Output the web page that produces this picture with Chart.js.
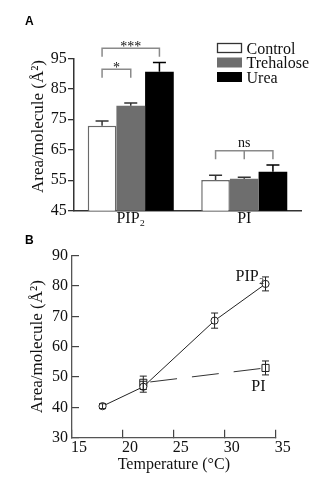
<!DOCTYPE html>
<html>
<head>
<meta charset="utf-8">
<script src="https://cdn.jsdelivr.net/npm/chart.js@4.4.1/dist/chart.umd.min.js"></script>
<style>
  html, body { margin: 0; padding: 0; background: #fff; }
  #wrap { position: relative; width: 331px; height: 484px; overflow: hidden; }
  #wrap canvas { position: absolute; left: 0; }
  #chartA { top: 0; }
  #chartB { top: 228px; }
</style>
</head>
<body>
<div id="wrap">
  <canvas id="chartA" width="331" height="240"></canvas>
  <canvas id="chartB" width="331" height="256"></canvas>
</div>
<script>
// Panel A: area per molecule for each lipid and additive
const lipids = ["PIP\u2082", "PI"];
const controlArea = [72.9, 55.1];
const controlErr = [1.5, 1.5];
const trehaloseArea = [79.4, 55.5];
const trehaloseErr = [0.9, 0.5];
const ureaArea = [90.6, 57.8];
const ureaErr = [3.0, 2.2];
const areaTicksA = [45, 55, 65, 75, 85, 95];

// significance brackets (group index, first/last bar, bracket level, leg end)
const brackets = [
  { group: 0, from: 0, to: 1, level: 91.4, legEnd: 88.6, text: "*" },
  { group: 0, from: 0, to: 2, level: 98.3, legEnd: 95.5, text: "***" },
  { group: 1, from: 0, to: 2, level: 64.7, legEnd: 61.9, text: "ns", middleLeg: true },
];

// Panel B: area per molecule vs temperature
const tempPIP2 = [18, 22, 29, 34];
const areaPIP2 = [40.4, 46.8, 68.6, 80.7];
const errPIP2 = [0.8, 1.8, 2.5, 2.3];
const tempPI = [22, 34];
const areaPI = [48.1, 53.0];
const errPI = [2.2, 2.3];
const tempTicks = [15, 20, 25, 30, 35];
const areaTicksB = [30, 40, 50, 60, 70, 80, 90];

const serif = "'Liberation Serif', 'Times New Roman', serif";
Chart.defaults.font.family = serif;
Chart.defaults.color = "#111";

// draws a rotated y-axis title, baseline at x, centred on y
function drawYTitle(ctx, text, x, y) {
  ctx.save();
  ctx.translate(x, y);
  ctx.rotate(-Math.PI / 2);
  ctx.font = "17px " + serif;
  ctx.fillStyle = "#111";
  ctx.textAlign = "center";
  ctx.textBaseline = "alphabetic";
  ctx.fillText(text, 0, 0);
  ctx.restore();
}

function drawPanelLetter(ctx, letter, x, y) {
  ctx.save();
  ctx.font = "bold 12px 'Liberation Sans', Arial, sans-serif";
  ctx.fillStyle = "#000";
  ctx.textBaseline = "alphabetic";
  ctx.fillText(letter, x, y);
  ctx.restore();
}

// Error bars for the bar chart (upper half only)
const barErrors = {
  id: "barErrors",
  afterDatasetsDraw(chart) {
    const ctx = chart.ctx;
    const y = chart.scales.y;
    ctx.save();
    ctx.lineWidth = 1.5;
    chart.data.datasets.forEach((ds, i) => {
      ctx.strokeStyle = ds.errorColor;
      chart.getDatasetMeta(i).data.forEach((bar, j) => {
        const top = y.getPixelForValue(ds.data[j] + ds.errors[j]);
        ctx.beginPath();
        ctx.moveTo(bar.x, bar.y);
        ctx.lineTo(bar.x, top);
        ctx.moveTo(bar.x - 6.5, top);
        ctx.lineTo(bar.x + 6.5, top);
        ctx.stroke();
      });
    });
    ctx.restore();
  },
};

// Brackets, legend, title and letter for panel A
const panelADecor = {
  id: "panelADecor",
  afterDraw(chart) {
    const ctx = chart.ctx;
    const y = chart.scales.y;
    const barX = (ds, g) => chart.getDatasetMeta(ds).data[g].x;

    ctx.save();
    ctx.strokeStyle = "#8a8a8a";
    ctx.lineWidth = 1.5;
    brackets.forEach((b) => {
      const x1 = barX(b.from, b.group);
      const x2 = barX(b.to, b.group);
      const yTop = y.getPixelForValue(b.level);
      const yLeg = y.getPixelForValue(b.legEnd);
      ctx.beginPath();
      ctx.moveTo(x1, yLeg);
      ctx.lineTo(x1, yTop);
      ctx.lineTo(x2, yTop);
      ctx.lineTo(x2, yLeg);
      if (b.middleLeg) {
        const xm = barX(1, b.group);
        ctx.moveTo(xm, yTop);
        ctx.lineTo(xm, yLeg);
      }
      ctx.stroke();
      ctx.fillStyle = "#111";
      ctx.font = "14px " + serif;
      ctx.textAlign = "center";
      ctx.textBaseline = "alphabetic";
      const isStar = b.text.indexOf("*") >= 0;
      ctx.fillText(b.text, (x1 + x2) / 2, yTop + (isStar ? 2.5 : -4));
    });
    ctx.restore();

    // legend
    ctx.save();
    chart.data.datasets.forEach((ds, i) => {
      const top = 43 + i * 14.5;
      ctx.fillStyle = ds.backgroundColor;
      ctx.fillRect(217, top, 25, 10);
      if (ds.borderWidth) {
        ctx.strokeStyle = "#333";
        ctx.lineWidth = 1.3;
        ctx.strokeRect(217.5, top + 0.5, 24, 9);
      }
      ctx.fillStyle = "#111";
      ctx.font = "16px " + serif;
      ctx.textAlign = "left";
      ctx.textBaseline = "alphabetic";
      ctx.fillText(ds.label, 246.5, top + 10.5);
    });
    ctx.restore();

    drawYTitle(ctx, "Area/molecule (\u00c5\u00b2)", 43, 126.5);
    drawPanelLetter(ctx, "A", 25, 25);
  },
};

new Chart(document.getElementById("chartA"), {
  type: "bar",
  data: {
    labels: lipids,
    datasets: [
      {
        label: "Control",
        data: controlArea,
        errors: controlErr,
        backgroundColor: "#ffffff",
        borderColor: "#6a6a6a",
        borderWidth: 1.5,
        errorColor: "#333",
      },
      {
        label: "Trehalose",
        data: trehaloseArea,
        errors: trehaloseErr,
        backgroundColor: "#6e6e6e",
        borderWidth: 0,
        errorColor: "#333",
      },
      {
        label: "Urea",
        data: ureaArea,
        errors: ureaErr,
        backgroundColor: "#000000",
        borderWidth: 0,
        errorColor: "#000",
      },
    ],
  },
  options: {
    responsive: false,
    animation: false,
    events: [],
    categoryPercentage: 0.758,
    barPercentage: 1,
    layout: { padding: { left: 0, top: 58.3, right: 30, bottom: 0 } },
    plugins: { legend: { display: false }, tooltip: { enabled: false } },
    scales: {
      x: {
        afterFit: (s) => { s.height = 29.3; },
        ticks: { font: { size: 16 }, color: "#111", padding: -1.5 },
        grid: { drawOnChartArea: false, drawTicks: false },
        border: { color: "#333", width: 1.5 },
      },
      y: {
        min: 45,
        max: 95,
        afterBuildTicks: (s) => { s.ticks = areaTicksA.map((v) => ({ value: v })); },
        afterFit: (s) => { s.width = 74; },
        ticks: { font: { size: 16 }, color: "#111", padding: 1.3 },
        grid: { drawOnChartArea: false, tickLength: 6, color: "#333", lineWidth: 1.3 },
        border: { color: "#333", width: 1.5 },
      },
    },
  },
  plugins: [barErrors, panelADecor],
});

// Error bars and labels for panel B
const pointErrors = {
  id: "pointErrors",
  afterDatasetsDraw(chart) {
    const ctx = chart.ctx;
    const y = chart.scales.y;
    ctx.save();
    ctx.lineWidth = 1;
    ctx.strokeStyle = "#222";
    chart.data.datasets.forEach((ds, i) => {
      chart.getDatasetMeta(i).data.forEach((pt, j) => {
        const v = ds.data[j].y;
        const hi = y.getPixelForValue(v + ds.errors[j]);
        const lo = y.getPixelForValue(v - ds.errors[j]);
        ctx.beginPath();
        ctx.moveTo(pt.x, lo);
        ctx.lineTo(pt.x, hi);
        ctx.moveTo(pt.x - 3.5, hi);
        ctx.lineTo(pt.x + 3.5, hi);
        ctx.moveTo(pt.x - 3.5, lo);
        ctx.lineTo(pt.x + 3.5, lo);
        ctx.stroke();
      });
    });
    ctx.restore();
  },
  afterDraw(chart) {
    const ctx = chart.ctx;
    const pipLast = chart.getDatasetMeta(0).data[tempPIP2.length - 1];
    const piLast = chart.getDatasetMeta(1).data[tempPI.length - 1];
    ctx.save();
    ctx.fillStyle = "#111";
    ctx.font = "16px " + serif;
    ctx.textBaseline = "alphabetic";
    ctx.textAlign = "left";
    ctx.fillText("PIP\u2082", pipLast.x - 30, pipLast.y - 3.3);
    ctx.textAlign = "right";
    ctx.fillText("PI", piLast.x, piLast.y + 22.7);
    ctx.restore();
    drawPanelLetter(chart.ctx, "B", 25, 15.5);
  },
};

new Chart(document.getElementById("chartB"), {
  type: "scatter",
  data: {
    datasets: [
      {
        label: "PIP2",
        data: tempPIP2.map((t, i) => ({ x: t, y: areaPIP2[i] })),
        errors: errPIP2,
        showLine: true,
        borderColor: "#222",
        borderWidth: 1,
        pointStyle: "circle",
        pointRadius: 3.6,
        pointBackgroundColor: "#fff",
        pointBorderColor: "#222",
        pointBorderWidth: 1,
      },
      {
        label: "PI",
        data: tempPI.map((t, i) => ({ x: t, y: areaPI[i] })),
        errors: errPI,
        showLine: true,
        borderColor: "#333",
        borderWidth: 1,
        borderDash: [27, 15],
        borderDashOffset: 35,
        pointStyle: "rect",
        pointRadius: 5,
        pointBackgroundColor: "#fff",
        pointBorderColor: "#222",
        pointBorderWidth: 1,
      },
    ],
  },
  options: {
    responsive: false,
    animation: false,
    events: [],
    layout: { padding: { left: 0, top: 27.7, right: 55.3, bottom: 0 } },
    plugins: { legend: { display: false }, tooltip: { enabled: false } },
    scales: {
      x: {
        type: "linear",
        min: 15,
        max: 35,
        afterBuildTicks: (s) => { s.ticks = tempTicks.map((v) => ({ value: v })); },
        afterFit: (s) => { s.height = 46.3; },
        ticks: { font: { size: 16 }, color: "#111", padding: 8.2, labelOffset: 7 },
        grid: { drawOnChartArea: false, tickLength: -8, color: "#444", lineWidth: 1.2 },
        border: { color: "#555", width: 1.3 },
        title: {
          display: true,
          text: "Temperature (\u00b0C)",
          font: { size: 16 },
          color: "#111",
          padding: { top: 0, bottom: 9.8 },
        },
      },
      y: {
        min: 30,
        max: 90,
        afterBuildTicks: (s) => { s.ticks = areaTicksB.map((v) => ({ value: v })); },
        afterFit: (s) => { s.width = 72; },
        ticks: { font: { size: 16 }, color: "#111", padding: 11 },
        grid: { drawOnChartArea: false, tickLength: -7, color: "#444", lineWidth: 1.2 },
        border: { color: "#555", width: 1.3 },
        title: {
          display: true,
          text: "Area/molecule (\u00c5\u00b2)",
          font: { size: 17 },
          color: "#111",
          padding: { top: 27.1, bottom: 0 },
        },
      },
    },
  },
  plugins: [pointErrors],
});
</script>
</body>
</html>
